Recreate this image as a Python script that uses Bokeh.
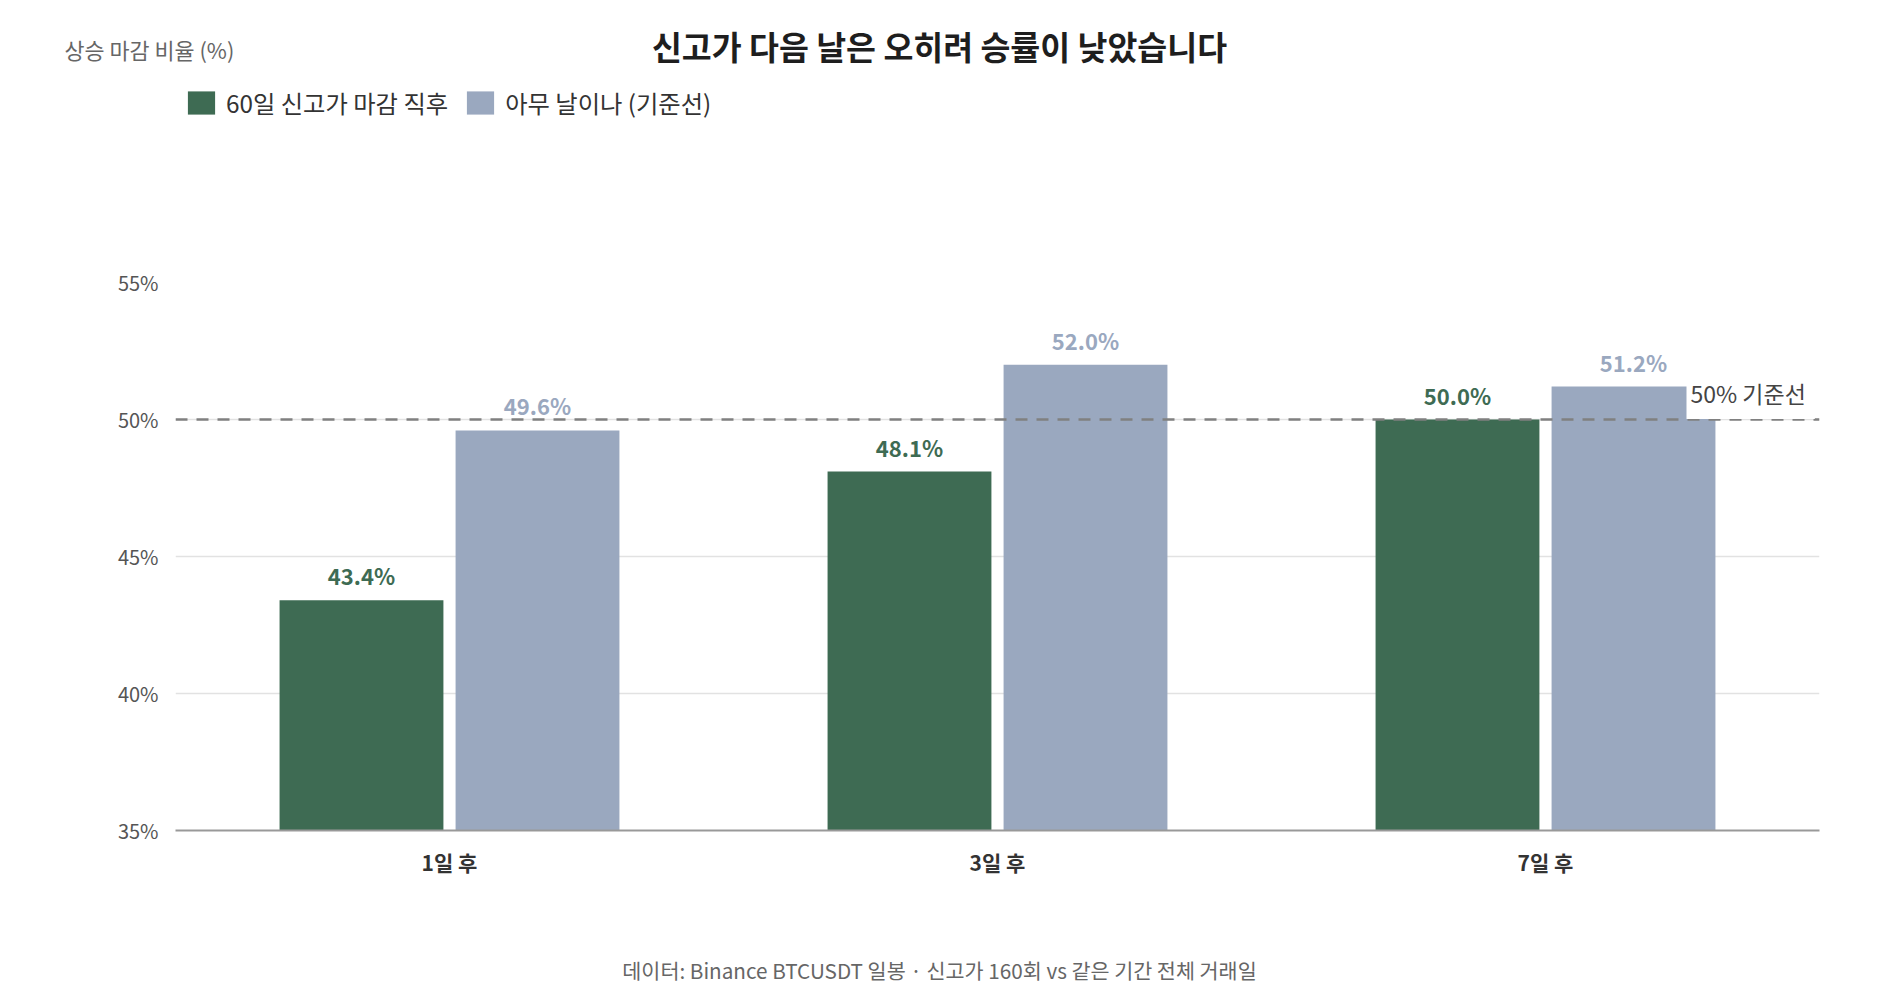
from bokeh.plotting import figure
from bokeh.layouts import column, row
from bokeh.models import (Range1d, FactorRange, FixedTicker, PrintfTickFormatter, Label,
                          Span, ColumnDataSource, Legend, LegendItem)
from bokeh.core.properties import value
from bokeh.transform import dodge
from bokeh.embed import file_html
from bokeh.resources import INLINE

# ---- data ----
categories = ["1일 후", "3일 후", "7일 후"]
new_high = [43.4, 48.1, 50.0]
baseline = [49.6, 52.0, 51.2]
y_ticks = [35, 40, 45, 50, 55]
series_names = ["60일 신고가 마감 직후", "아무 날이나 (기준선)"]
title_text = "신고가 다음 날은 오히려 승률이 낮았습니다"
y_label_text = "상승 마감 비율 (%)"
footer_text = "데이터: Binance BTCUSDT 일봉 · 신고가 160회 vs 같은 기간 전체 거래일"
ref_value = 50
ref_label_text = "50% 기준선"

FONT = "Noto Sans CJK KR"
GREEN = "#3e6b53"
BLUE = "#9aa8bf"

W = 1864
TOP_H = 262
MAIN_TOP, FRAME_H, MAIN_BOTTOM = 20, 548, 70
MAIN_H = MAIN_TOP + FRAME_H + MAIN_BOTTOM
BOT_H = 92


def blank(h):
    f = figure(width=W, height=h, x_range=Range1d(0, W), y_range=Range1d(h, 0),
               x_axis_location=None, y_axis_location=None, min_border=0,
               output_backend="svg", toolbar_location=None)
    f.outline_line_color = None
    f.grid.visible = False
    return f


# ---- header ----
top = blank(TOP_H)
top.add_layout(Label(x=939, y=45, text=title_text, text_align="center",
                     text_baseline="middle", text_font=FONT, text_font_size="32.5px",
                     text_font_style="bold", text_color="#1e1e1e"))
top.add_layout(Label(x=64, y=49, text=y_label_text, text_align="left",
                     text_baseline="middle", text_font=FONT, text_font_size="21.8px",
                     text_color="#666666"))
# legend swatch carriers: zero-size glyphs (nothing visible is drawn)
lg1 = top.vbar(x=[0], top=[0], bottom=[0], width=0, fill_color=GREEN, line_color=None)
lg2 = top.vbar(x=[0], top=[0], bottom=[0], width=0, fill_color=BLUE, line_color=None)
legend = Legend(items=[LegendItem(label=series_names[0], renderers=[lg1]),
                       LegendItem(label=series_names[1], renderers=[lg2])],
                location=(184, TOP_H - 120), orientation="horizontal",
                glyph_width=34, glyph_height=29, label_standoff=8, spacing=15,
                padding=0, margin=0, border_line_color=None, background_fill_alpha=0,
                label_text_font=FONT, label_text_font_size="24.3px",
                label_text_color="#333333")
top.add_layout(legend, "center")

# ---- main chart ----
src = ColumnDataSource(dict(
    cat=categories,
    new_high=new_high,
    baseline=baseline,
    nh_label=[f"{v:.1f}%" for v in new_high],
    bl_label=[f"{v:.1f}%" for v in baseline],
))

p = figure(width=W, height=MAIN_H, x_range=FactorRange(*categories),
           y_range=Range1d(y_ticks[0], y_ticks[-1]),
           output_backend="svg", toolbar_location=None,
           min_border_left=175, min_border_right=W - 1819,
           min_border_top=MAIN_TOP, min_border_bottom=MAIN_BOTTOM)
p.outline_line_color = None

BW = 0.299
OFF = 0.1606
r1 = p.vbar(x=dodge("cat", -OFF, range=p.x_range), top="new_high", bottom=y_ticks[0],
            width=BW, source=src, fill_color=GREEN, line_color=None)
r2 = p.vbar(x=dodge("cat", OFF, range=p.x_range), top="baseline", bottom=y_ticks[0],
            width=BW, source=src, fill_color=BLUE, line_color=None)

p.text(x=dodge("cat", -OFF, range=p.x_range), y="new_high", text="nh_label", source=src,
       text_align="center", text_baseline="middle", y_offset=-25,
       text_font=value(FONT), text_font_size="22px", text_font_style="bold",
       text_color=GREEN)
p.text(x=dodge("cat", OFF, range=p.x_range), y="baseline", text="bl_label", source=src,
       text_align="center", text_baseline="middle", y_offset=-25,
       text_font=value(FONT), text_font_size="22px", text_font_style="bold",
       text_color=BLUE)

p.add_layout(Span(location=ref_value, dimension="width", line_color="#808080",
                  line_width=2.5, line_dash="12 9"))
p.add_layout(Label(x=3, y=ref_value, x_offset=-133, y_offset=24, text=ref_label_text,
                   text_align="left", text_baseline="middle",
                   text_font=FONT, text_font_size="23px", text_color="#444444",
                   background_fill_color="white", padding=(4, 9, 4, 9)))

p.yaxis.ticker = FixedTicker(ticks=y_ticks)
p.yaxis.formatter = PrintfTickFormatter(format="%d%%")
p.yaxis.axis_line_color = None
p.yaxis.major_tick_line_color = None
p.yaxis.major_tick_out = 0
p.yaxis.major_tick_in = 0
p.yaxis.minor_tick_line_color = None
p.yaxis.major_label_text_font = FONT
p.yaxis.major_label_text_font_size = "20px"
p.yaxis.major_label_text_color = "#555555"
p.yaxis.major_label_standoff = 17

p.xaxis.axis_line_color = "#999999"
p.xaxis.axis_line_width = 2
p.xaxis.major_tick_line_color = None
p.xaxis.major_tick_out = 0
p.xaxis.major_tick_in = 0
p.xaxis.minor_tick_line_color = None
p.xaxis.major_label_text_font = FONT
p.xaxis.major_label_text_font_size = "21px"
p.xaxis.major_label_text_font_style = "bold"
p.xaxis.major_label_text_color = "#333333"
p.xaxis.major_label_standoff = 16

p.xgrid.grid_line_color = None
p.ygrid.grid_line_color = "#e2e2e2"
p.ygrid.grid_line_width = 1.5

# ---- footer ----
bot = blank(BOT_H)
bot.add_layout(Label(x=939, y=69, text=footer_text, text_align="center",
                     text_baseline="middle", text_font=FONT, text_font_size="20.7px",
                     text_color="#666666"))

layout = column(row(top), p, row(bot), spacing=0)
open("out.html", "w").write(file_html(layout, INLINE))
